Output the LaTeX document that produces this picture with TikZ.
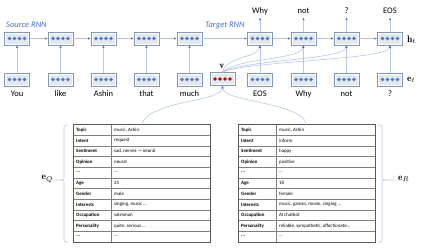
\documentclass[tikz,border=0pt]{standalone}
\usepackage{fontspec}
\newfontfamily\carl{Carlito}
\usetikzlibrary{arrows.meta}
\definecolor{lineblue}{HTML}{B4C7E7}
\definecolor{tipblue}{HTML}{4472C4}
\definecolor{dotblue}{HTML}{4A78CC}
\definecolor{dotred}{HTML}{C00000}
\definecolor{cellfill}{HTML}{E3E8F0}
\definecolor{cellborder}{HTML}{8497B0}
\definecolor{labblue}{HTML}{4472C4}
\definecolor{tabline}{HTML}{7F7F7F}
\definecolor{tabouter}{HTML}{595959}
\newcommand\myell{..\kern0pt.}
\tikzset{
  cell/.style={draw=cellborder, fill=cellfill, line width=0.5pt, minimum width=25pt, minimum height=13pt, inner sep=0pt},
  arr/.style={draw=lineblue, line width=0.6pt, -{Latex[length=2.6pt,width=2.2pt,color=tipblue]}},
  word/.style={font=\carl\fontsize{8.5}{10}\selectfont, inner sep=0pt, anchor=base},
  rnnlab/.style={font=\carl\itshape\fontsize{8.5}{10}\selectfont, text=labblue, inner sep=0pt, anchor=base west},
  tabtxt/.style={font=\carl\fontsize{4.9}{5.5}\selectfont, inner sep=0pt, anchor=west},
  tabkey/.style={tabtxt, font=\carl\bfseries\fontsize{4.9}{5.5}\selectfont},
  bracestyle/.style={draw=lineblue, line width=0.6pt},
  mathlab/.style={font=\fontsize{9.5}{11}\selectfont, inner sep=0pt}
}
\newcommand\rnn[4]{%
  \node[cell] (#1) at (#2,#3) {};
  \draw[white,line width=0.5pt] ([shift={(1.2pt,-1.2pt)}]#1.north west) rectangle ([shift={(-1.2pt,1.2pt)}]#1.south east);
  \foreach \k in {-1.5,-0.5,0.5,1.5} \fill[#4] ([xshift=\k*5pt]#1.center) circle[radius=1.8pt];
}
\begin{document}
\begin{tikzpicture}[x=1pt,y=-1pt]
\useasboundingbox (0,0) rectangle (423,247);
% source RNN
\rnn{s1}{17}{38.5}{dotblue}
\rnn{s2}{60.5}{38.5}{dotblue}
\rnn{s3}{103.5}{38.5}{dotblue}
\rnn{s4}{146.5}{38.5}{dotblue}
\rnn{s5}{189.5}{38.5}{dotblue}
\rnn{b1}{17}{79.5}{dotblue}
\rnn{b2}{60.5}{79.5}{dotblue}
\rnn{b3}{103.5}{79.5}{dotblue}
\rnn{b4}{146.5}{79.5}{dotblue}
\rnn{b5}{189.5}{79.5}{dotblue}
% target RNN
\rnn{t1}{260}{38.5}{dotblue}
\rnn{t2}{303.5}{38.5}{dotblue}
\rnn{t3}{346.5}{38.5}{dotblue}
\rnn{t4}{390}{38.5}{dotblue}
\rnn{c1}{260}{79.5}{dotblue}
\rnn{c2}{303.5}{79.5}{dotblue}
\rnn{c3}{346.5}{79.5}{dotblue}
\rnn{c4}{390}{79.5}{dotblue}
% v
\rnn{v}{222.5}{79}{dotred}
\node[mathlab] (vlab) at (222,66) {$\mathbf{v}$};
% labels
\node[rnnlab] (srcl) at (6,27) {Source RNN};
\node[rnnlab] (tgtl) at (205,27) {Target RNN};
\node[mathlab, anchor=west] (hlab) at (407,39.5) {$\mathbf{h}_t$};
\node[mathlab, anchor=west] (elab) at (407,80) {$\mathbf{e}_t$};
% words below
\node[word] (w1) at (17,96.5) {You};
\node[word] (w2) at (60.5,96.5) {like};
\node[word] (w3) at (103.5,96.5) {Ashin};
\node[word] (w4) at (146.5,96.5) {that};
\node[word] (w5) at (189.5,96.5) {much};
\node[word] (w6) at (260,96.5) {EOS};
\node[word] (w7) at (303.5,96.5) {Why};
\node[word] (w8) at (346.5,96.5) {not};
\node[word] (w9) at (390,96.5) {?};
% outputs
\node[word] (o1) at (260,13.5) {Why};
\node[word] (o2) at (303.5,13.5) {not};
\node[word] (o3) at (346.5,13.5) {?};
\node[word] (o4) at (390,13.5) {EOS};
\coordinate (oe1) at (260,17.5);
\coordinate (oe2) at (303.5,17.5);
\coordinate (oe3) at (346.5,17.5);
\coordinate (oe4) at (390,17.5);
\foreach \i in {1,2,3,4} \draw[arr] (t\i.north) -- (oe\i);
% vertical arrows
\foreach \i in {1,2,3,4,5} \draw[arr] (b\i.north) -- (s\i.south);
\foreach \i in {1,2,3,4} \draw[arr] (c\i.north) -- (t\i.south);
% horizontal arrows
\draw[arr] (s1.east) -- (s2.west);
\draw[arr] (s2.east) -- (s3.west);
\draw[arr] (s3.east) -- (s4.west);
\draw[arr] (s4.east) -- (s5.west);
\draw[arr] (s5.east) -- (t1.west);
\draw[arr] (t1.east) -- (t2.west);
\draw[arr] (t2.east) -- (t3.west);
\draw[arr] (t3.east) -- (t4.west);
% v to target
\draw[arr] (v.north) .. controls (226,56) and (258,58) .. (t1.south);
\draw[arr] (v.north) .. controls (235,58) and (301,60) .. (t2.south);
\draw[arr] (v.north) .. controls (240,60) and (344,60) .. (t3.south);
\draw[arr] (v.north) .. controls (245,61) and (388,60) .. (t4.south);
% tables
\def\rh{10.682}
\coordinate (tabLtop) at (141.5,124.5);
\coordinate (tabRtop) at (306.5,124.5);
\foreach \i in {1,2,3,4,5,6,7,8,9,10} {
  \draw[tabline, line width=0.4pt] (73,124.5+\i*\rh) -- (210,124.5+\i*\rh);
  \draw[tabline, line width=0.4pt] (238,124.5+\i*\rh) -- (375,124.5+\i*\rh);
}
\draw[tabline, line width=0.4pt] (111,124.5) -- (111,242);
\draw[tabline, line width=0.4pt] (276,124.5) -- (276,242);
\draw[tabouter, line width=0.8pt] (73,124.5) rectangle (210,242);
\draw[tabouter, line width=0.8pt] (238,124.5) rectangle (375,242);
\foreach \a/\b [count=\i from 0] in {Topic/{music, Ashin}, Intent/request, Sentiment/{sad, nerves -> neural}, Opinion/neural, \myell/\myell, Age/25, Gender/male, Interests/{singing, music \myell}, Occupation/salesman, Personality/{quite, serious \myell}, \myell/\myell} {
  \node[tabkey] (lk\i) at (76,124.5+\i*\rh+0.5*\rh) {\a};
  \node[tabtxt] (lv\i) at (114,124.5+\i*\rh+0.5*\rh) {\b};
}
\foreach \a/\b [count=\i from 0] in {Topic/{music, Ashin}, Intent/inform, Sentiment/happy, Opinion/positive, \myell/\myell, Age/18, Gender/female, Interests/{music, games, movie, singing \myell}, Occupation/AI chatbot, Personality/{reliable, sympathetic, affectionate\myell}, \myell/\myell} {
  \node[tabkey] (rk\i) at (241,124.5+\i*\rh+0.5*\rh) {\a};
  \node[tabtxt] (rv\i) at (279,124.5+\i*\rh+0.5*\rh) {\b};
}
% curves from tables to v
\draw[arr] (tabLtop) .. controls (150,100) and (222,102) .. (v.south);
\draw[arr] (tabRtop) .. controls (302,102) and (223,102) .. (v.south);
% braces
\draw[bracestyle] (68,125) .. controls (64,125) .. (64,129) -- (64,176) .. controls (64,179.5) .. (61,180) -- (55,180);
\draw[bracestyle] (61,180) .. controls (64,180.5) .. (64,184) -- (64,238) .. controls (64,242) .. (68,242);
\draw[bracestyle] (378,125) .. controls (382,125) .. (382,129) -- (382,176) .. controls (382,179.5) .. (385,180) -- (396,180);
\draw[bracestyle] (385,180) .. controls (382,180.5) .. (382,184) -- (382,238) .. controls (382,242) .. (378,242);
\node[mathlab, anchor=east] (eq) at (53,179) {$\mathbf{e}_Q$};
\node[mathlab, anchor=west] (er) at (398,179) {$\mathbf{e}_R$};
\end{tikzpicture}
\end{document}
